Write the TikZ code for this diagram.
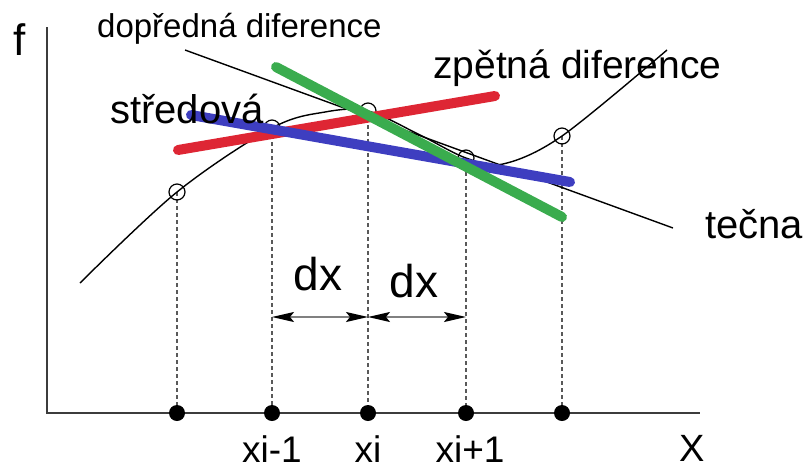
\documentclass[tikz,border=0pt]{standalone}
\usepackage{fontspec}
\setmainfont{Liberation Sans}
\usetikzlibrary{arrows.meta}
\definecolor{cred}{RGB}{222,38,52}
\definecolor{cgreen}{RGB}{58,172,78}
\definecolor{cblue}{RGB}{62,62,192}
\definecolor{axisgray}{RGB}{60,60,60}
\tikzset{
  axisline/.style={draw=axisgray, line width=2pt},
  dropline/.style={draw=axisgray!85, line width=1.6pt, dash pattern=on 4pt off 3pt},
  fatline/.style={line width=10pt, line cap=round},
  opendot/.style={draw=black, line width=1.2pt, fill=none},
  axisdot/.style={fill=black},
  lbl/.style={inner sep=0pt, anchor=base, text depth=0pt},
  dxarrow/.style={draw=gray, line width=1.6pt, >={Stealth[color=black,length=22pt,width=10pt,inset=4pt]}, <->}
}
\newcommand{\fs}[1]{\fontsize{#1}{#1}\selectfont}
\begin{document}
\begin{tikzpicture}[x=1pt,y=-1pt]
\useasboundingbox (0,0) rectangle (803,469);
% axes
\coordinate (O) at (47,413);
\coordinate (ytop) at (47,27);
\coordinate (xend) at (700,413);
\draw[axisline] (ytop) -- (O) -- (xend);
% curve points
\coordinate (p1) at (177,192);
\coordinate (p2) at (272,128);
\coordinate (p3) at (368,111);
\coordinate (p4) at (466,158);
\coordinate (p5) at (562,136);
% axis points
\coordinate (a1) at (177,413);
\coordinate (a2) at (272,413);
\coordinate (a3) at (368,413);
\coordinate (a4) at (466,413);
\coordinate (a5) at (562,413);
% drop lines
\foreach \i in {1,...,5} \draw[dropline] (p\i) -- (a\i);
% curve
\draw[black, line width=1.4pt] plot[smooth, tension=0.55] coordinates {(80,283) (177,192) (272,128) (325,112) (368,111) (420,135) (466,158) (503,164) (562,136) (667,50)};
\foreach \i in {1,...,5} \draw[opendot] (p\i) circle (8);
% tangent
\coordinate (t1) at (185,50);
\coordinate (t2) at (673,228);
\draw[black, line width=1.4pt] (t1) -- (t2);
% coloured lines
\coordinate (r1) at (178,150);
\coordinate (r2) at (495,96);
\coordinate (b1) at (191,115);
\coordinate (b2) at (570,182);
\coordinate (g1) at (276,67);
\coordinate (g2) at (562,217);
\draw[fatline, cred] (r1) -- (r2);
\draw[fatline, cblue] (b1) -- (b2);
\draw[fatline, cgreen] (g1) -- (g2);
% axis dots
\foreach \i in {1,...,5} \fill[axisdot] (a\i) circle (8);
% dx arrows
\coordinate (d1) at (272,317);
\coordinate (d2) at (368,317);
\coordinate (d3) at (466,317);
\draw[dxarrow] (d1) -- (d2);
\draw[dxarrow] (d2) -- (d3);
% labels
\node[lbl] (lf) at (20,55) {\fs{44}f};
\node[lbl, anchor=base west] (ldop) at (97,37) {\fs{33}dopředná diference};
\node[lbl, anchor=base west] (lzpe) at (433,78) {\fs{39}zpětná diference};
\node[lbl, anchor=base west] (lstr) at (110,123) {\fs{40}středová};
\node[lbl, anchor=base west] (ltec) at (705,238) {\fs{40}tečna};
\node[lbl] (ldx1) at (318,290) {\fs{46}dx};
\node[lbl] (ldx2) at (414,297) {\fs{46}dx};
\node[lbl] (lx1) at (272,462) {\fs{37}xi-1};
\node[lbl] (lx2) at (368,462) {\fs{37}xi};
\node[lbl] (lx3) at (470,462) {\fs{37}xi+1};
\node[lbl] (lX) at (692,461) {\fs{38}X};
\end{tikzpicture}
\end{document}
